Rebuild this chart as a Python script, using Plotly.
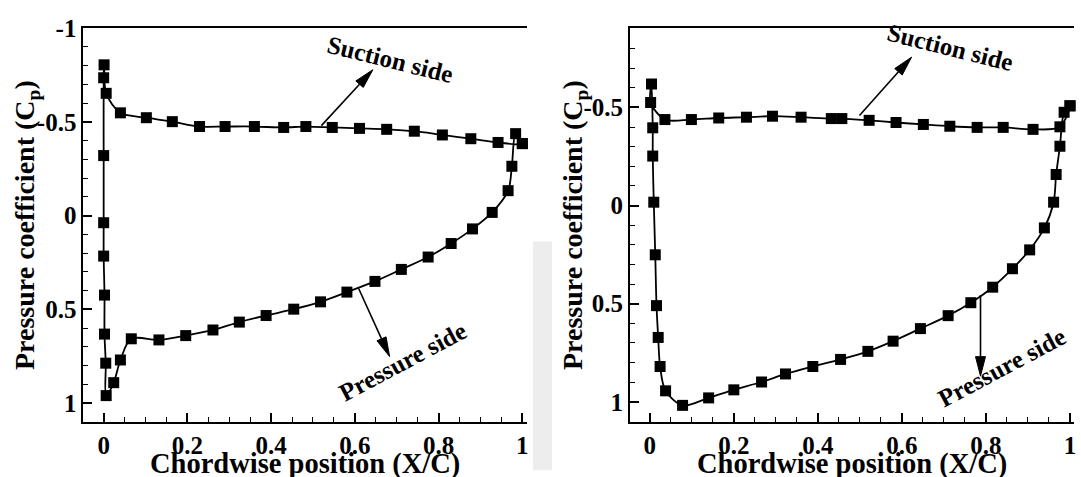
import plotly.graph_objects as go

# ---------------- data: pressure coefficient around the blade ----------------
# Left case: loop starts at the trailing edge, runs along the suction side to the
# leading edge and returns along the pressure side.
x_suction_a = [1.0, 0.942, 0.877, 0.809, 0.742, 0.676, 0.611, 0.546, 0.483, 0.430,
               0.360, 0.290, 0.229, 0.164, 0.102, 0.040, 0.006, 0.001, 0.0, 0.0,
               0.0, 0.0, 0.002, 0.002, 0.005, 0.006]
cp_suction_a = [-0.384, -0.39, -0.41, -0.43, -0.45, -0.46, -0.465, -0.47, -0.475, -0.47,
                -0.475, -0.475, -0.475, -0.501, -0.522, -0.548, -0.652, -0.804, -0.735, -0.32,
                0.038, 0.216, 0.424, 0.632, 0.787, 0.96]
x_pressure_a = [0.024, 0.040, 0.066, 0.132, 0.196, 0.261, 0.324, 0.388, 0.454, 0.518,
                0.581, 0.648, 0.711, 0.775, 0.830, 0.881, 0.928, 0.966, 0.975, 0.984, 1.0]
cp_pressure_a = [0.891, 0.77, 0.657, 0.663, 0.64, 0.61, 0.568, 0.533, 0.499, 0.46,
                 0.408, 0.351, 0.287, 0.221, 0.149, 0.071, -0.017, -0.133, -0.263, -0.437, -0.384]

# Right case
x_suction_b = [1.0, 0.976, 0.912, 0.841, 0.779, 0.714, 0.651, 0.586, 0.522, 0.457,
               0.432, 0.360, 0.292, 0.230, 0.164, 0.099, 0.036, 0.002, 0.004, 0.007,
               0.007, 0.0095]
cp_suction_b = [-0.508, -0.401, -0.388, -0.398, -0.398, -0.404, -0.413, -0.423, -0.434, -0.443,
                -0.443, -0.45, -0.455, -0.45, -0.446, -0.438, -0.438, -0.525, -0.619, -0.396,
                -0.252, -0.017]
x_pressure_b = [0.013, 0.016, 0.020, 0.0245, 0.0376, 0.078, 0.140, 0.200, 0.266, 0.323,
                0.388, 0.454, 0.519, 0.579, 0.644, 0.710, 0.764, 0.816, 0.863, 0.904,
                0.939, 0.961, 0.967, 0.976, 0.986, 1.0]
cp_pressure_b = [0.251, 0.51, 0.672, 0.82, 0.944, 1.018, 0.98, 0.939, 0.899, 0.858,
                 0.82, 0.784, 0.743, 0.691, 0.627, 0.561, 0.495, 0.416, 0.322, 0.226,
                 0.114, -0.017, -0.158, -0.302, -0.475, -0.508]

# ---------------- axes ----------------
x_tickvals = [0, 0.2, 0.4, 0.6, 0.8, 1]
x_ticktext = ["0", "0.2", "0.4", "0.6", "0.8", "1"]
y_tickvals_a = [-1, -0.5, 0, 0.5, 1]
y_ticktext_a = ["-1", "-0.5", "0", "0.5", "1"]
y_tickvals_b = [-0.5, 0, 0.5, 1]
y_ticktext_b = ["-0.5", "0", "0.5", "1"]

W, H = 1081, 477
FONT = "Liberation Serif"

x_range_a = [-0.049, 1.01]
y_range_a = [1.102, -1.0]
x_range_b = [-0.0475, 1.01]
y_range_b = [1.104, -0.904]
x_dom_a = [83.3 / W, 527.5 / W]
x_dom_b = [631.0 / W, 1076.2 / W]
y_dom = [1 - 420.7 / H, 1 - 15.5 / H]


def bold(items):
    return [f"<b>{t}</b>" for t in items]


fig = go.Figure()

for xs, cs, xp, cp, xa, ya in [
    (x_suction_a, cp_suction_a, x_pressure_a, cp_pressure_a, "x", "y"),
    (x_suction_b, cp_suction_b, x_pressure_b, cp_pressure_b, "x2", "y2"),
]:
    fig.add_trace(go.Scatter(
        x=xs + xp, y=cs + cp, xaxis=xa, yaxis=ya,
        mode="lines+markers",
        line=dict(color="black", width=1.8, shape="spline", smoothing=0.9),
        marker=dict(symbol="square", size=11, color="black"),
        cliponaxis=False, showlegend=False, hoverinfo="skip",
    ))

tickfont = dict(family=FONT, size=25, color="black")


def x_axis(domain, rng, anchor):
    return dict(
        domain=domain, range=rng, anchor=anchor,
        tickmode="array", tickvals=x_tickvals, ticktext=bold(x_ticktext),
        ticks="inside", ticklen=9, tickwidth=1.5, tickcolor="black",
        minor=dict(dtick=0.05, tick0=0, ticks="inside", ticklen=5, tickwidth=1.2,
                   tickcolor="black", showgrid=False),
        showline=True, linecolor="black", linewidth=1.5, mirror=True,
        showgrid=False, zeroline=False, tickfont=tickfont,
    )


def y_axis(domain, rng, anchor, vals, text):
    return dict(
        domain=domain, range=rng, anchor=anchor,
        tickmode="array", tickvals=vals, ticktext=bold(text),
        ticks="inside", ticklen=9, tickwidth=1.5, tickcolor="black",
        minor=dict(dtick=0.1, tick0=0, ticks="inside", ticklen=5, tickwidth=1.2,
                   tickcolor="black", showgrid=False),
        showline=True, linecolor="black", linewidth=1.5, mirror=False,
        showgrid=False, zeroline=False, tickfont=tickfont,
    )


fig.update_layout(
    width=W, height=H,
    margin=dict(l=0, r=0, t=0, b=0),
    paper_bgcolor="white", plot_bgcolor="white",
    font=dict(family=FONT, color="black"),
    xaxis=x_axis(x_dom_a, x_range_a, "y"),
    yaxis=y_axis(y_dom, y_range_a, "x", y_tickvals_a, y_ticktext_a),
    xaxis2=x_axis(x_dom_b, x_range_b, "y2"),
    yaxis2=y_axis(y_dom, y_range_b, "x2", y_tickvals_b, y_ticktext_b),
)

# faint grey band between the two panels
fig.add_shape(type="rect", xref="paper", yref="paper",
              x0=534 / W, x1=553 / W, y0=1 - 470 / H, y1=1 - 235 / H,
              fillcolor="#ededed", line=dict(width=0), layer="below")

for cx in (305.4, 853.6):
    fig.add_annotation(text="<b>Chordwise position (X/C)</b>", xref="paper", yref="paper",
                       x=cx / W, y=1 - 464 / H, xanchor="center", yanchor="middle",
                       showarrow=False, font=dict(family=FONT, size=28.5, color="black"))
for cx in (26, 575):
    fig.add_annotation(text="<b>Pressure coefficient (C<sub>p</sub>)</b>", xref="paper",
                       yref="paper", x=cx / W, y=1 - 218 / H, xanchor="center",
                       yanchor="middle", textangle=-90, showarrow=False,
                       font=dict(family=FONT, size=28, color="black"))


# ---------------- labelled arrows ----------------
def to_px(x, y, xr, yr, xd, yd):
    px = xd[0] * W + (x - xr[0]) / (xr[1] - xr[0]) * (xd[1] - xd[0]) * W
    py = (1 - yd[0]) * H - (y - yr[0]) / (yr[1] - yr[0]) * (yd[1] - yd[0]) * H
    return px, py


def from_px(px, py, xr, yr, xd, yd):
    x = xr[0] + (px - xd[0] * W) / ((xd[1] - xd[0]) * W) * (xr[1] - xr[0])
    y = yr[0] + ((1 - yd[0]) * H - py) / ((yd[1] - yd[0]) * H) * (yr[1] - yr[0])
    return x, y


def arrow(tail, tip, xref, yref, xr, yr, xd, yd, head_len=20, head_half=5):
    tx, ty = to_px(*tail, xr, yr, xd, yd)
    hx, hy = to_px(*tip, xr, yr, xd, yd)
    dx, dy = hx - tx, hy - ty
    n = (dx * dx + dy * dy) ** 0.5
    ux, uy = dx / n, dy / n
    bx, by = hx - head_len * ux, hy - head_len * uy
    base = from_px(bx, by, xr, yr, xd, yd)
    c1 = from_px(bx - head_half * uy, by + head_half * ux, xr, yr, xd, yd)
    c2 = from_px(bx + head_half * uy, by - head_half * ux, xr, yr, xd, yd)
    fig.add_shape(type="line", xref=xref, yref=yref,
                  x0=tail[0], y0=tail[1], x1=base[0], y1=base[1],
                  line=dict(color="black", width=1.6))
    fig.add_shape(type="path", xref=xref, yref=yref,
                  path=f"M {tip[0]},{tip[1]} L {c1[0]},{c1[1]} L {c2[0]},{c2[1]} Z",
                  fillcolor="black", line=dict(color="black", width=1))


label_font = dict(family=FONT, size=25, color="black")

panels = [
    dict(xref="x", yref="y", xr=x_range_a, yr=y_range_a, xd=x_dom_a,
         s_tail=(0.52, -0.48), s_tip=(0.643, -0.778), s_txt=(0.685, -0.835),
         p_tail=(0.609, 0.389), p_tip=(0.683, 0.752), p_txt=(0.715, 0.78)),
    dict(xref="x2", yref="y2", xr=x_range_b, yr=y_range_b, xd=x_dom_b,
         s_tail=(0.499, -0.459), s_tip=(0.623, -0.756), s_txt=(0.716, -0.806),
         p_tail=(0.787, 0.457), p_tip=(0.787, 0.869), p_txt=(0.838, 0.826)),
]
for p in panels:
    arrow(p["s_tail"], p["s_tip"], p["xref"], p["yref"], p["xr"], p["yr"], p["xd"], y_dom)
    arrow(p["p_tail"], p["p_tip"], p["xref"], p["yref"], p["xr"], p["yr"], p["xd"], y_dom)
    fig.add_annotation(text="<b>Suction side</b>", xref=p["xref"], yref=p["yref"],
                       x=p["s_txt"][0], y=p["s_txt"][1], textangle=14,
                       xanchor="center", yanchor="middle", showarrow=False, font=label_font)
    fig.add_annotation(text="<b>Pressure side</b>", xref=p["xref"], yref=p["yref"],
                       x=p["p_txt"][0], y=p["p_txt"][1], textangle=-28,
                       xanchor="center", yanchor="middle", showarrow=False, font=label_font)

fig.write_html("out.html")
